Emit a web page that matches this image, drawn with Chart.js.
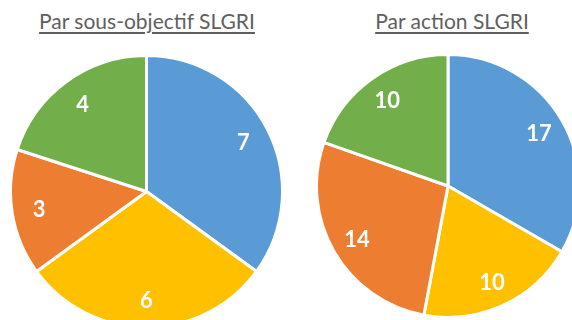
<!DOCTYPE html>
<html>
<head>
<meta charset="utf-8">
<script src="https://cdn.jsdelivr.net/npm/chart.js@4/dist/chart.umd.min.js"></script>
<style>
  html, body { margin: 0; padding: 0; background: #fff; overflow: hidden; width: 572px; height: 320px; }
  .title {
    position: absolute; top: 8px; width: 300px; text-align: center;
    font-family: Lato, "Open Sans", sans-serif; font-size: 21px; color: #5f5f5f;
    text-decoration: underline; text-decoration-thickness: 2px; text-underline-offset: 3px;
    white-space: nowrap;
  }
  .pie { position: absolute; }
</style>
</head>
<body>
<div class="title" id="t1" style="left:-3px">Par sous-objectif SLGRI</div>
<div class="title" id="t2" style="left:302px">Par action SLGRI</div>
<div class="pie" style="left:9px; top:54px; width:275px; height:275px;"><canvas id="c1"></canvas></div>
<div class="pie" style="left:315px; top:53px; width:266px; height:266px;"><canvas id="c2"></canvas></div>
<script>
// Slice order, clockwise from 12 o'clock
const categories = ["Bleu", "Jaune", "Orange", "Vert"];
const sousObjectifValues = [7, 6, 3, 4];
const actionValues = [17, 10, 14, 10];
const sliceColors = ["#5B9BD5", "#FFC000", "#ED7D31", "#72AE4A"];

// White value labels placed inside each slice
const valueLabels = {
  id: "valueLabels",
  afterDatasetsDraw(chart) {
    const ctx = chart.ctx;
    const meta = chart.getDatasetMeta(0);
    const data = chart.data.datasets[0].data;
    ctx.save();
    ctx.fillStyle = "#ffffff";
    ctx.font = "bold 22px Lato, 'Open Sans', sans-serif";
    ctx.textAlign = "center";
    ctx.textBaseline = "middle";
    meta.data.forEach((arc, i) => {
      const p = arc.getProps(["x", "y", "startAngle", "endAngle", "outerRadius"], true);
      const mid = (p.startAngle + p.endAngle) / 2;
      const d = p.outerRadius * 0.8;
      ctx.fillText(String(data[i]), p.x + Math.cos(mid) * d, p.y + Math.sin(mid) * d + 1);
    });
    ctx.restore();
  }
};

function makePie(id, values) {
  return new Chart(document.getElementById(id), {
    type: "pie",
    data: {
      labels: categories,
      datasets: [{
        data: values,
        backgroundColor: sliceColors,
        borderColor: "#ffffff",
        borderWidth: 3
      }]
    },
    options: {
      responsive: true,
      maintainAspectRatio: false,
      animation: false,
      layout: { padding: 0 },
      plugins: { legend: { display: false }, tooltip: { enabled: false } }
    },
    plugins: [valueLabels]
  });
}

makePie("c1", sousObjectifValues);
makePie("c2", actionValues);
</script>
</body>
</html>
